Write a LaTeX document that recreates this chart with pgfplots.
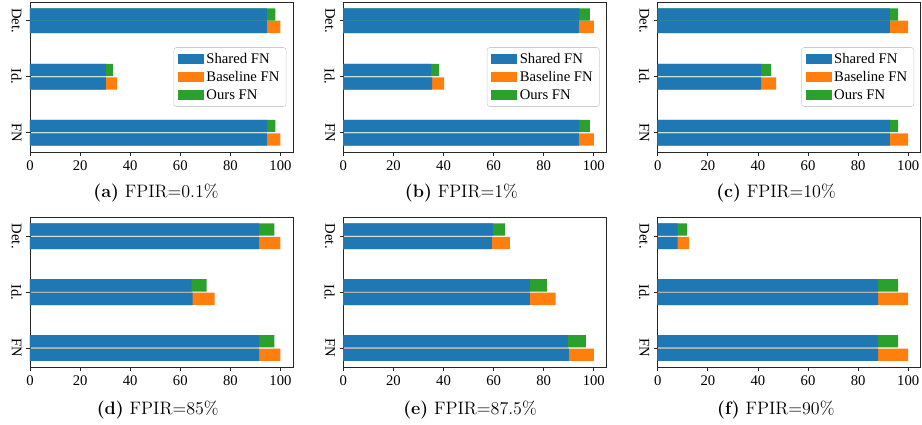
\documentclass[border=0pt]{standalone}
\usepackage{fontspec}
\setmainfont{Liberation Serif}
\newfontfamily\lm{Latin Modern Roman}
\usepackage{pgfplots}
\usepackage{pgfplotstable}
\pgfplotsset{compat=1.18}
\definecolor{cB}{HTML}{1F77B4}
\definecolor{cO}{HTML}{FF7F0E}
\definecolor{cG}{HTML}{2CA02C}

% pos: 0=FN, 1=Id., 2=Det.; su/tu: upper bar shared / shared+ours; sl/tl: lower bar shared / shared+baseline
\pgfplotstableread{
pos su tu sl tl off
0 94.6 98.0 94.6 100 0.121
1 30.3 33.1 30.3 34.7 0.121
2 94.6 98.0 94.6 100 0.11
}\tA
\pgfplotstableread{
pos su tu sl tl off
0 94.2 98.4 94.0 100 0.121
1 35.0 38.2 35.4 40.2 0.121
2 94.2 98.4 94.0 100 0.11
}\tB
\pgfplotstableread{
pos su tu sl tl off
0 92.7 96.0 92.7 100 0.121
1 41.3 45.3 41.3 47.3 0.121
2 92.7 96.0 92.7 100 0.11
}\tC
\pgfplotstableread{
pos su tu sl tl off
0 91.5 97.6 91.5 100 0.121
1 64.5 70.5 64.9 73.7 0.121
2 91.5 97.6 91.5 100 0.121
}\tD
\pgfplotstableread{
pos su tu sl tl off
0 89.6 96.8 90.0 100 0.121
1 74.5 81.3 74.5 84.8 0.121
2 59.8 64.5 59.3 66.5 0.121
}\tE
\pgfplotstableread{
pos su tu sl tl off
0 88.0 96.0 88.0 100 0.121
1 88.0 96.0 88.0 100 0.121
2 7.9 11.7 7.9 12.5 0.121
}\tF

\pgfplotsset{
  myax/.style={
    scale only axis, width=197.25pt,
    xmin=0, xmax=105, ymin=-0.345, ymax=2.335,
    xtick={0,20,40,60,80,100},
    ytick={0,1,2}, yticklabels={FN,Id.,Det.},
    tick align=outside, tick pos=left,
    major tick length=2.8pt,
    axis line style={black!85, line width=0.6pt},
    every tick/.style={black!85, line width=0.6pt},
    /pgf/number format/assume math mode=true,
    tick label style={font=\fontsize{11}{13}\selectfont},
    yticklabel style={rotate=-90, anchor=north},
    every axis plot/.append style={xbar, bar width=0.22, bar shift=0pt, draw=none},
    legend style={at={(1,0.5)}, anchor=east, xshift=-5pt, draw=black!20, rounded corners=2pt,
      font=\fontsize{11}{13}\selectfont, row sep=0.6pt, inner xsep=3pt, inner ysep=2pt},
    legend cell align=left,
    legend image code/.code={\fill[##1, sharp corners] (0pt,-3.75pt) rectangle (19.5pt,3.75pt);},
  },
  toprow/.style={myax, height=112.5pt},
  botrow/.style={myax, height=112.3pt},
}
\newcommand{\bars}[1]{%
  \addplot[fill=cO, forget plot] table[x=tl, y expr=\thisrow{pos}-\thisrow{off}] {#1};
  \addplot[fill=cG, forget plot] table[x=tu, y expr=\thisrow{pos}+\thisrow{off}] {#1};
  \addplot[fill=cB, forget plot] table[x=sl, y expr=\thisrow{pos}-\thisrow{off}] {#1};
  \addplot[fill=cB, forget plot] table[x=su, y expr=\thisrow{pos}+\thisrow{off}] {#1};
}
\newcommand{\leg}{%
  \addlegendimage{fill=cB, draw=none}\addlegendentry{Shared FN}
  \addlegendimage{fill=cO, draw=none}\addlegendentry{Baseline FN}
  \addlegendimage{fill=cG, draw=none}\addlegendentry{Ours FN}
}

\begin{document}
\begin{tikzpicture}
\useasboundingbox (0,0) rectangle (691.5pt,318.75pt);
\begin{axis}[toprow, at={(22.5pt,204.75pt)}, anchor=south west]
\leg
\bars{\tA}
\end{axis}
\begin{axis}[toprow, at={(257.5pt,204.75pt)}, anchor=south west]
\leg
\bars{\tB}
\end{axis}
\begin{axis}[toprow, at={(493.3pt,204.75pt)}, anchor=south west]
\leg
\bars{\tC}
\end{axis}
\begin{axis}[botrow, at={(22.5pt,43.3pt)}, anchor=south west]
\bars{\tD}
\end{axis}
\begin{axis}[botrow, at={(257.5pt,43.3pt)}, anchor=south west]
\bars{\tE}
\end{axis}
\begin{axis}[botrow, at={(493.3pt,43.3pt)}, anchor=south west]
\bars{\tF}
\end{axis}
\begin{scope}[every node/.style={anchor=base, font=\lm\fontsize{13.5}{16}\selectfont, inner sep=0pt}]
\node at (117pt,170.8pt) {\textbf{(a)}\ FPIR=0.1\%};
\node at (346pt,170.8pt) {\textbf{(b)}\ FPIR=1\%};
\node at (582pt,170.8pt) {\textbf{(c)}\ FPIR=10\%};
\node at (118.3pt,8pt) {\textbf{(d)}\ FPIR=85\%};
\node at (352.5pt,8pt) {\textbf{(e)}\ FPIR=87.5\%};
\node at (581.9pt,8pt) {\textbf{(f)}\ FPIR=90\%};
\end{scope}
\end{tikzpicture}
\end{document}
